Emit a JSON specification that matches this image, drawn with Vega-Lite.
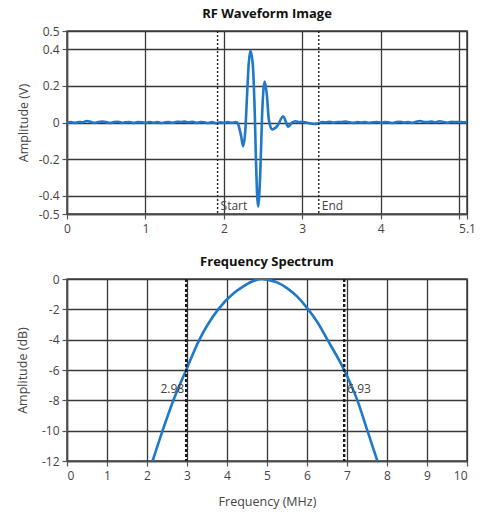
{
  "$schema": "https://vega.github.io/schema/vega-lite/v6.json",
  "padding": {"left": 15, "top": 7, "right": 0, "bottom": 0},
  "background": "white",
  "bounds": "flush",
  "spacing": 65,
  "config": {
    "font": "Open Sans",
    "view": {"stroke": "#4a4a4a", "strokeWidth": 1.5},
    "axis": {
      "labelFont": "Open Sans", "labelFontSize": 12, "labelColor": "#444", "labelOverlap": false, "tickCount": 30,
      "titleFont": "Open Sans", "titleFontSize": 12.5, "titleFontWeight": "normal", "titleColor": "#444",
      "gridColor": "#383838", "gridWidth": 1.3, "gridOpacity": 1,
      "tickColor": "#555", "tickSize": 5, "tickWidth": 1.2,
      "domainColor": "#4a4a4a", "domainWidth": 1.5
    },
    "axisX": {"labelPadding": 4},
    "axisY": {"labelPadding": 3},
    "title": {"font": "Open Sans", "fontSize": 13, "fontWeight": "bold", "color": "#111", "frame": "group", "offset": 4}
  },
  "datasets": {
    "wave": [
      {"t": 0, "v": 0}, {"t": 0.05, "v": 0.002}, {"t": 0.1, "v": -0.002}, {"t": 0.15, "v": 0.003},
      {"t": 0.2, "v": 0.001}, {"t": 0.25, "v": 0.008}, {"t": 0.3, "v": 0.004}, {"t": 0.35, "v": -0.002},
      {"t": 0.4, "v": 0.003}, {"t": 0.45, "v": 0.005}, {"t": 0.5, "v": 0.002}, {"t": 0.55, "v": -0.003},
      {"t": 0.6, "v": 0.002}, {"t": 0.65, "v": 0.004}, {"t": 0.7, "v": -0.002}, {"t": 0.75, "v": 0.001},
      {"t": 0.8, "v": 0.003}, {"t": 0.85, "v": -0.003}, {"t": 0.9, "v": 0.002}, {"t": 0.95, "v": 0.001},
      {"t": 1.0, "v": -0.002}, {"t": 1.05, "v": 0.003}, {"t": 1.1, "v": -0.001}, {"t": 1.15, "v": 0.002},
      {"t": 1.2, "v": -0.003}, {"t": 1.25, "v": 0.001}, {"t": 1.3, "v": 0.002}, {"t": 1.35, "v": -0.001},
      {"t": 1.4, "v": 0.004}, {"t": 1.45, "v": 0.003}, {"t": 1.5, "v": 0.005}, {"t": 1.55, "v": 0.001},
      {"t": 1.6, "v": 0.004}, {"t": 1.65, "v": -0.002}, {"t": 1.7, "v": 0.003}, {"t": 1.75, "v": 0.001},
      {"t": 1.8, "v": -0.003}, {"t": 1.85, "v": 0.002}, {"t": 1.9, "v": -0.004}, {"t": 1.95, "v": 0.001},
      {"t": 2.0, "v": -0.002}, {"t": 2.05, "v": 0.002}, {"t": 2.1, "v": -0.001}, {"t": 2.15, "v": 0.002},
      {"t": 2.17, "v": 0}, {"t": 2.19, "v": -0.02}, {"t": 2.22, "v": -0.074}, {"t": 2.245, "v": -0.129},
      {"t": 2.274, "v": -0.04}, {"t": 2.295, "v": 0.143}, {"t": 2.317, "v": 0.32}, {"t": 2.338, "v": 0.393},
      {"t": 2.368, "v": 0.32}, {"t": 2.394, "v": 0.05}, {"t": 2.41, "v": -0.22}, {"t": 2.436, "v": -0.46},
      {"t": 2.466, "v": -0.255}, {"t": 2.487, "v": 0.034}, {"t": 2.52, "v": 0.224}, {"t": 2.55, "v": 0.143},
      {"t": 2.573, "v": 0.016}, {"t": 2.615, "v": -0.038}, {"t": 2.68, "v": -0.02}, {"t": 2.757, "v": 0.034},
      {"t": 2.82, "v": -0.023}, {"t": 2.87, "v": 0.0}, {"t": 2.915, "v": 0.007}, {"t": 2.96, "v": 0.002},
      {"t": 3.0, "v": 0.003}, {"t": 3.05, "v": 0.0}, {"t": 3.1, "v": -0.005}, {"t": 3.15, "v": -0.008},
      {"t": 3.2, "v": -0.006}, {"t": 3.25, "v": 0.002}, {"t": 3.3, "v": 0.001}, {"t": 3.35, "v": 0.004},
      {"t": 3.4, "v": -0.001}, {"t": 3.45, "v": 0.003}, {"t": 3.5, "v": 0.002}, {"t": 3.55, "v": 0.005},
      {"t": 3.6, "v": 0.001}, {"t": 3.65, "v": -0.002}, {"t": 3.7, "v": 0.003}, {"t": 3.75, "v": 0.0},
      {"t": 3.8, "v": 0.002}, {"t": 3.85, "v": -0.002}, {"t": 3.9, "v": 0.001}, {"t": 3.95, "v": 0.003},
      {"t": 4.0, "v": -0.001}, {"t": 4.05, "v": 0.002}, {"t": 4.1, "v": 0.001}, {"t": 4.15, "v": -0.003},
      {"t": 4.2, "v": 0.002}, {"t": 4.25, "v": 0.004}, {"t": 4.3, "v": 0.0}, {"t": 4.35, "v": 0.002},
      {"t": 4.4, "v": -0.002}, {"t": 4.45, "v": 0.004}, {"t": 4.5, "v": 0.008}, {"t": 4.55, "v": 0.003},
      {"t": 4.6, "v": 0.002}, {"t": 4.65, "v": 0.005}, {"t": 4.7, "v": 0.001}, {"t": 4.75, "v": 0.007},
      {"t": 4.8, "v": 0.003}, {"t": 4.85, "v": -0.001}, {"t": 4.9, "v": 0.004}, {"t": 4.95, "v": 0.002},
      {"t": 5.0, "v": 0.003}, {"t": 5.05, "v": 0.001}, {"t": 5.1, "v": 0.002}
    ],
    "spectrum": [
      {"f": 2.14, "db": -12.0}, {"f": 2.39, "db": -10.0}, {"f": 2.66, "db": -8.0}, {"f": 2.98, "db": -6.0},
      {"f": 3.31, "db": -4.0}, {"f": 3.78, "db": -2.0}, {"f": 4.18, "db": -0.91}, {"f": 4.39, "db": -0.52},
      {"f": 4.6, "db": -0.2}, {"f": 4.85, "db": 0.0}, {"f": 5.0, "db": -0.04}, {"f": 5.25, "db": -0.22},
      {"f": 5.5, "db": -0.6}, {"f": 5.75, "db": -1.15}, {"f": 6.0, "db": -1.9}, {"f": 6.25, "db": -2.8},
      {"f": 6.51, "db": -4.0}, {"f": 6.93, "db": -6.0}, {"f": 7.26, "db": -8.0}, {"f": 7.51, "db": -10.0},
      {"f": 7.76, "db": -12.0}
    ],
    "gates": [{"t": 1.92, "label": "Start"}, {"t": 3.21, "label": "End"}],
    "cutoffs": [{"f": 2.98, "label": "2.98", "side": "left"}, {"f": 6.93, "label": "6.93", "side": "right"}]
  },
  "vconcat": [
    {
      "width": 400, "height": 183,
      "title": {"text": "RF Waveform Image"},
      "layer": [
        {
          "data": {"name": "wave"},
          "mark": {"type": "line", "color": "#1f78c8", "strokeWidth": 2.6, "interpolate": "monotone", "clip": true},
          "encoding": {
            "x": {"field": "t", "type": "quantitative", "scale": {"domain": [0, 5.1], "nice": false, "zero": false},
              "axis": {"title": null, "values": [0, 1, 2, 3, 4, 5, 5.1], "format": "~g",
                "labelExpr": "datum.value == 5 ? '' : datum.label", "labelFlush": false}},
            "y": {"field": "v", "type": "quantitative", "scale": {"domain": [-0.5, 0.5], "nice": false},
              "axis": {"title": "Amplitude (V)", "values": [-0.5, -0.4, -0.2, 0, 0.2, 0.4, 0.5], "format": "~g",
                "labelExpr": "replace(datum.label, '\u2212', '-')", "titlePadding": 8}}
          }
        },
        {
          "data": {"name": "gates"},
          "mark": {"type": "rule", "color": "#222", "strokeWidth": 1.4, "strokeDash": [2, 2]},
          "encoding": {"x": {"field": "t", "type": "quantitative"}}
        },
        {
          "data": {"name": "gates"},
          "mark": {"type": "text", "align": "left", "baseline": "middle", "dx": 3, "fontSize": 12, "color": "#444", "font": "Open Sans"},
          "encoding": {
            "x": {"field": "t", "type": "quantitative"},
            "y": {"datum": -0.455},
            "text": {"field": "label"}
          }
        }
      ]
    },
    {
      "width": 400, "height": 182,
      "title": {"text": "Frequency Spectrum"},
      "layer": [
        {
          "data": {"name": "spectrum"},
          "mark": {"type": "line", "color": "#1f78c8", "strokeWidth": 2.6, "interpolate": "monotone", "clip": true},
          "encoding": {
            "x": {"field": "f", "type": "quantitative", "scale": {"domain": [0, 10], "nice": false},
              "axis": {"title": "Frequency (MHz)", "values": [0, 1, 2, 3, 4, 5, 6, 7, 8, 9, 10], "format": "~g", "titlePadding": 14}},
            "y": {"field": "db", "type": "quantitative", "scale": {"domain": [-12, 0], "nice": false},
              "axis": {"title": "Amplitude (dB)", "values": [-12, -10, -8, -6, -4, -2, 0], "format": "~g",
                "labelExpr": "replace(datum.label, '\u2212', '-')", "titlePadding": 12}}
          }
        },
        {
          "data": {"name": "cutoffs"},
          "mark": {"type": "rule", "color": "#1a1a1a", "strokeWidth": 2.4, "strokeDash": [3, 2]},
          "encoding": {"x": {"field": "f", "type": "quantitative"}}
        },
        {
          "data": {"name": "cutoffs"},
          "transform": [{"filter": "datum.side == 'left'"}],
          "mark": {"type": "text", "align": "right", "baseline": "middle", "dx": -2, "fontSize": 12, "color": "#444", "font": "Open Sans"},
          "encoding": {
            "x": {"field": "f", "type": "quantitative"},
            "y": {"datum": -7.26},
            "text": {"field": "label"}
          }
        },
        {
          "data": {"name": "cutoffs"},
          "transform": [{"filter": "datum.side == 'right'"}],
          "mark": {"type": "text", "align": "left", "baseline": "middle", "dx": 3, "fontSize": 12, "color": "#444", "font": "Open Sans"},
          "encoding": {
            "x": {"field": "f", "type": "quantitative"},
            "y": {"datum": -7.26},
            "text": {"field": "label"}
          }
        }
      ]
    }
  ]
}
